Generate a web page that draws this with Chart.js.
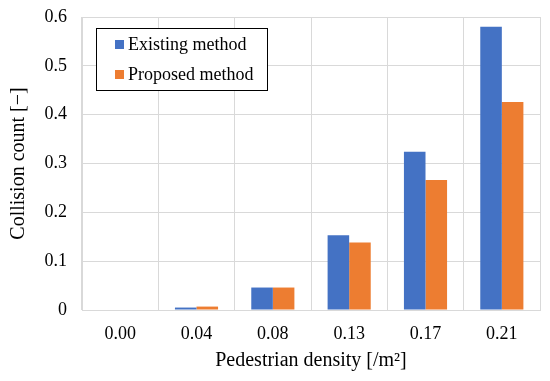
<!DOCTYPE html>
<html>
<head>
<meta charset="utf-8">
<script src="https://cdn.jsdelivr.net/npm/chart.js@4"></script>
<style>
  body { margin: 0; background: #fff; }
  #wrap { width: 550px; height: 381px; position: relative; }
</style>
</head>
<body>
<div id="wrap"><canvas id="chart"></canvas></div>
<script>
const densities = ['0.00', '0.04', '0.08', '0.13', '0.17', '0.21'];
const existing = [0, 0.005, 0.046, 0.153, 0.324, 0.580];
const proposed = [0, 0.007, 0.046, 0.138, 0.266, 0.426];
const yTicks = [0, 0.1, 0.2, 0.3, 0.4, 0.5, 0.6];

const serif = 'Liberation Serif, Times New Roman, serif';

// legend box drawn inside the plot, top-left, like the Excel original
const boxLegend = {
  id: 'boxLegend',
  afterDraw(chart) {
    const ctx = chart.ctx;
    const a = chart.chartArea;
    const x = a.left + 14, y = a.top + 11, w = 171, h = 62;
    ctx.save();
    ctx.fillStyle = '#fff';
    ctx.fillRect(x, y, w, h);
    ctx.strokeStyle = '#000';
    ctx.lineWidth = 1;
    ctx.strokeRect(x + 0.5, y + 0.5, w, h);
    ctx.font = '18px ' + serif;
    ctx.textBaseline = 'middle';
    chart.data.datasets.forEach((ds, i) => {
      const cy = y + 17 + i * 30;
      ctx.fillStyle = ds.backgroundColor;
      ctx.fillRect(x + 19, cy - 5, 9, 9);
      ctx.fillStyle = '#000';
      ctx.fillText(ds.label, x + 32, cy);
    });
    ctx.restore();
  }
};

new Chart(document.getElementById('chart'), {
  type: 'bar',
  data: {
    labels: densities,
    datasets: [
      { label: 'Existing method', data: existing, backgroundColor: '#4472C4' },
      { label: 'Proposed method', data: proposed, backgroundColor: '#ED7D31' }
    ]
  },
  options: {
    responsive: true,
    maintainAspectRatio: false,
    animation: false,
    layout: { padding: { top: 17, right: 10, left: 0, bottom: 0 } },
    datasets: { bar: { categoryPercentage: 0.565, barPercentage: 1 } },
    plugins: { legend: { display: false }, tooltip: { enabled: false } },
    scales: {
      x: {
        grid: { color: '#d9d9d9', drawTicks: false, offset: true },
        border: { color: '#d9d9d9' },
        ticks: { color: '#000', font: { family: serif, size: 18 }, padding: 13 },
        title: {
          display: true,
          text: 'Pedestrian density [/m²]',
          color: '#000',
          font: { family: serif, size: 20 },
          padding: { top: 0, bottom: 8 }
        },
        afterFit(scale) { scale.height = 71; }
      },
      y: {
        min: 0,
        max: 0.6,
        afterBuildTicks(scale) { scale.ticks = yTicks.map(v => ({ value: v })); },
        grid: { color: '#d9d9d9', drawTicks: false },
        border: { color: '#d9d9d9' },
        ticks: {
          color: '#000',
          font: { family: serif, size: 18 },
          padding: 15,
          callback: v => v === 0 ? '0' : v.toFixed(1)
        },
        title: {
          display: true,
          text: 'Collision count [−]',
          color: '#000',
          font: { family: serif, size: 20 },
          padding: { top: 7, bottom: 0 }
        },
        afterFit(scale) {
          scale.width = 82;
          scale.paddingTop = 0;
          scale.paddingBottom = 0;
        }
      }
    }
  },
  plugins: [boxLegend]
});
</script>
</body>
</html>
